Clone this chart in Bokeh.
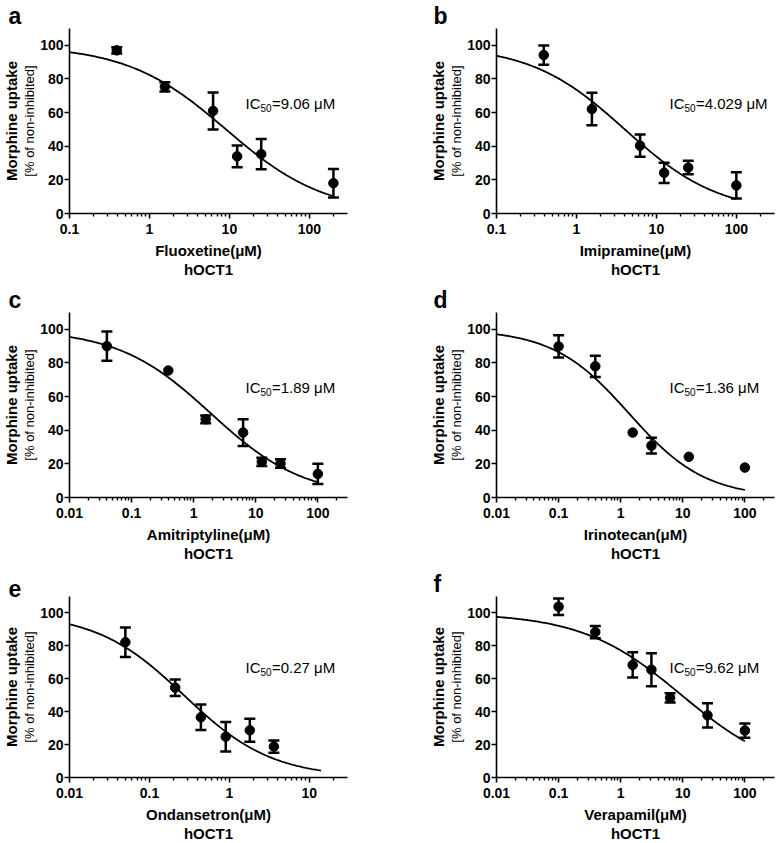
import numpy as np
from bokeh.plotting import figure
from bokeh.models import (Range1d, FixedTicker, ColumnDataSource, Whisker, TeeHead,
                          Label, Title)
from bokeh.layouts import column, row
from bokeh.embed import file_html
from bokeh.resources import INLINE

# ---------------- data ----------------
letters = ["a", "b", "c", "d", "e", "f"]
drugs = ["Fluoxetine", "Imipramine", "Amitriptyline", "Irinotecan", "Ondansetron", "Verapamil"]
ic50_text = ["=9.06 μM", "=4.029  μM", "=1.89 μM", "=1.36 μM", "=0.27 μM", "=9.62 μM"]

a_x = [0.39, 1.56, 6.25, 12.5, 25, 200]
a_y = [97.0, 75.3, 61.0, 34.0, 35.3, 18.0]
a_err = [1.9, 2.7, 11.0, 6.5, 9.0, 8.5]

b_x = [0.39, 1.56, 6.25, 12.5, 25, 100]
b_y = [94.2, 62.1, 40.3, 24.2, 27.3, 16.7]
b_err = [5.7, 9.7, 6.6, 6.0, 4.0, 7.8]

c_x = [0.04, 0.39, 1.56, 6.25, 12.5, 25, 100]
c_y = [90.0, 75.5, 46.5, 38.6, 21.2, 20.2, 14.0]
c_err = [8.7, 0.0, 2.3, 8.0, 2.5, 2.5, 6.0]

d_x = [0.1, 0.39, 1.56, 3.125, 12.5, 100]
d_y = [89.8, 78.0, 38.6, 30.8, 24.2, 17.8]
d_err = [6.6, 6.3, 0.0, 4.7, 0.0, 0.0]

e_x = [0.05, 0.21, 0.44, 0.9, 1.8, 3.6]
e_y = [82.2, 54.6, 36.6, 24.8, 28.7, 18.8]
e_err = [8.9, 5.0, 7.7, 9.0, 7.0, 3.7]

f_x = [0.1, 0.39, 1.56, 3.125, 6.25, 25, 100]
f_y = [103.8, 88.4, 68.4, 65.5, 48.4, 37.8, 28.5]
f_err = [5.0, 3.7, 7.7, 10.0, 2.8, 7.4, 4.3]

# fitted dose-response curves (top, bottom, IC50, Hill slope)
fit_top = [100, 100, 100, 100, 100, 100]
fit_bottom = [0, 0, 0, 0, 0, 0]
fit_ic50 = [9.06, 4.029, 1.89, 1.36, 0.27, 9.62]
fit_hill = [0.70, 0.735, 0.58, 0.71, 0.79, 0.54]
curve_start = [0.1, 0.1, 0.01, 0.01, 0.01, 0.01]
curve_end = [200, 100, 100, 100, 14, 100]

x_min = [0.1, 0.1, 0.01, 0.01, 0.01, 0.01]
x_max = [300, 300, 300, 300, 30, 300]
x_tick_values = [
    [0.1, 1, 10, 100],
    [0.1, 1, 10, 100],
    [0.01, 0.1, 1, 10, 100],
    [0.01, 0.1, 1, 10, 100],
    [0.01, 0.1, 1, 10],
    [0.01, 0.1, 1, 10, 100],
]
x_tick_labels = [
    ["0.1", "1", "10", "100"],
    ["0.1", "1", "10", "100"],
    ["0.01", "0.1", "1", "10", "100"],
    ["0.01", "0.1", "1", "10", "100"],
    ["0.01", "0.1", "1", "10"],
    ["0.01", "0.1", "1", "10", "100"],
]
y_ticks = [0, 20, 40, 60, 80, 100]
y_max = 110
x_unit = "(μM)"
transporter = "hOCT1"
y_title = "Morphine uptake"
y_sub = "[% of non-inhibited]"

series_x = [a_x, b_x, c_x, d_x, e_x, f_x]
series_y = [a_y, b_y, c_y, d_y, e_y, f_y]
series_err = [a_err, b_err, c_err, d_err, e_err, f_err]

FONT = "Liberation Sans"


def minor_ticks(lo, hi):
    out = []
    for d in range(int(np.floor(np.log10(lo))), int(np.ceil(np.log10(hi))) + 1):
        for k in range(2, 10):
            v = k * 10.0 ** d
            if lo < v < hi:
                out.append(v)
    return out


def make_panel(i):
    left_col = (i % 2 == 0)
    r = i // 2
    width = 425 if left_col else 352
    bl = 69 if left_col else 71
    br = 425 - 69 - 278 if left_col else 3
    if r == 0:
        height, bt, bb = 283, 28, 70
    elif r == 1:
        height, bt, bb = 283, 29, 69
    else:
        height, bt, bb = 277, 30, 66

    p = figure(width=width, height=height, x_axis_type="log",
               x_range=Range1d(x_min[i], x_max[i]), y_range=Range1d(0, y_max),
               output_backend="svg", toolbar_location=None,
               min_border_left=bl, min_border_right=br,
               min_border_top=bt, min_border_bottom=bb)
    p.outline_line_color = None
    p.xgrid.visible = False
    p.ygrid.visible = False
    p.background_fill_color = "white"

    # panel letter
    p.add_layout(Title(text=letters[i], align="left", offset=-61 if left_col else -63,
                       text_font=FONT, text_font_style="bold", text_font_size="23px",
                       text_color="black", standoff=0), "above")

    # x axis
    xa = p.xaxis[0]
    xa.ticker = FixedTicker(ticks=x_tick_values[i], minor_ticks=minor_ticks(x_min[i], x_max[i]))
    xa.major_label_overrides = {v: s for v, s in zip(x_tick_values[i], x_tick_labels[i])}
    xa.axis_line_width = 1.6
    xa.major_tick_line_width = 1.6
    xa.minor_tick_line_width = 1.4
    xa.major_tick_out = 5
    xa.major_tick_in = 0
    xa.minor_tick_out = 3
    xa.minor_tick_in = 0
    xa.major_label_text_font = FONT
    xa.major_label_text_font_style = "bold"
    xa.major_label_text_font_size = "14px"
    xa.major_label_text_color = "black"
    xa.major_label_standoff = 5
    xa.axis_label = drugs[i] + x_unit
    xa.axis_label_text_font = FONT
    xa.axis_label_text_font_style = "bold"
    xa.axis_label_text_font_size = "15px"
    xa.axis_label_text_color = "black"
    xa.axis_label_standoff = 5
    p.add_layout(Title(text=transporter, align="center", text_font=FONT,
                       text_font_style="bold", text_font_size="15px",
                       text_color="black", standoff=-5, offset=0), "below")

    # y axis
    ya = p.yaxis[0]
    ya.ticker = FixedTicker(ticks=y_ticks, minor_ticks=[])
    ya.axis_line_width = 1.6
    ya.major_tick_line_width = 1.6
    ya.major_tick_out = 5
    ya.major_tick_in = 0
    ya.minor_tick_out = 0
    ya.minor_tick_in = 0
    ya.major_label_text_font = FONT
    ya.major_label_text_font_style = "bold"
    ya.major_label_text_font_size = "14px"
    ya.major_label_text_color = "black"
    ya.major_label_standoff = 1
    ya.axis_label = y_sub
    ya.axis_label_text_font = FONT
    ya.axis_label_text_font_style = "normal"
    ya.axis_label_text_font_size = "13px"
    ya.axis_label_text_color = "black"
    ya.axis_label_standoff = 0
    p.add_layout(Title(text=y_title, align="center", text_font=FONT,
                       text_font_style="bold", text_font_size="15px",
                       text_color="black", standoff=0, offset=0), "left")

    # fitted curve
    cx = np.logspace(np.log10(curve_start[i]), np.log10(curve_end[i]), 200)
    cy = fit_bottom[i] + (fit_top[i] - fit_bottom[i]) / (1 + (cx / fit_ic50[i]) ** fit_hill[i])
    p.line(cx, cy, line_color="black", line_width=1.8)

    # error bars
    xs, ys, es = series_x[i], series_y[i], series_err[i]
    wx = [x for x, e in zip(xs, es) if e > 0]
    wu = [y + e for y, e in zip(ys, es) if e > 0]
    wl = [y - e for y, e in zip(ys, es) if e > 0]
    wsrc = ColumnDataSource(dict(x=wx, upper=wu, lower=wl))
    w = Whisker(source=wsrc, base="x", upper="upper", lower="lower", dimension="height",
                line_width=2.5, line_color="black",
                upper_head=TeeHead(size=11, line_width=2.5, line_color="black"),
                lower_head=TeeHead(size=11, line_width=2.5, line_color="black"))
    p.add_layout(w)

    p.scatter(xs, ys, size=9.5, color="black")

    # IC50 annotation
    x0, y0 = 176 if left_col else 173, 110
    p.add_layout(Label(x=x0, y=y0, x_units="screen", y_units="screen", text="IC",
                       text_font=FONT, text_font_size="15px", text_color="black",
                       text_baseline="alphabetic"))
    p.add_layout(Label(x=x0 + 15, y=y0 - 4, x_units="screen", y_units="screen", text="50",
                       text_font=FONT, text_font_size="10px", text_color="black",
                       text_baseline="alphabetic"))
    p.add_layout(Label(x=x0 + 26.5, y=y0, x_units="screen", y_units="screen", text=ic50_text[i],
                       text_font=FONT, text_font_size="15px", text_color="black",
                       text_baseline="alphabetic"))
    return p


panels = [make_panel(i) for i in range(6)]
layout = column(row(panels[0], panels[1]), row(panels[2], panels[3]), row(panels[4], panels[5]))

open("out.html", "w").write(file_html(layout, INLINE))
